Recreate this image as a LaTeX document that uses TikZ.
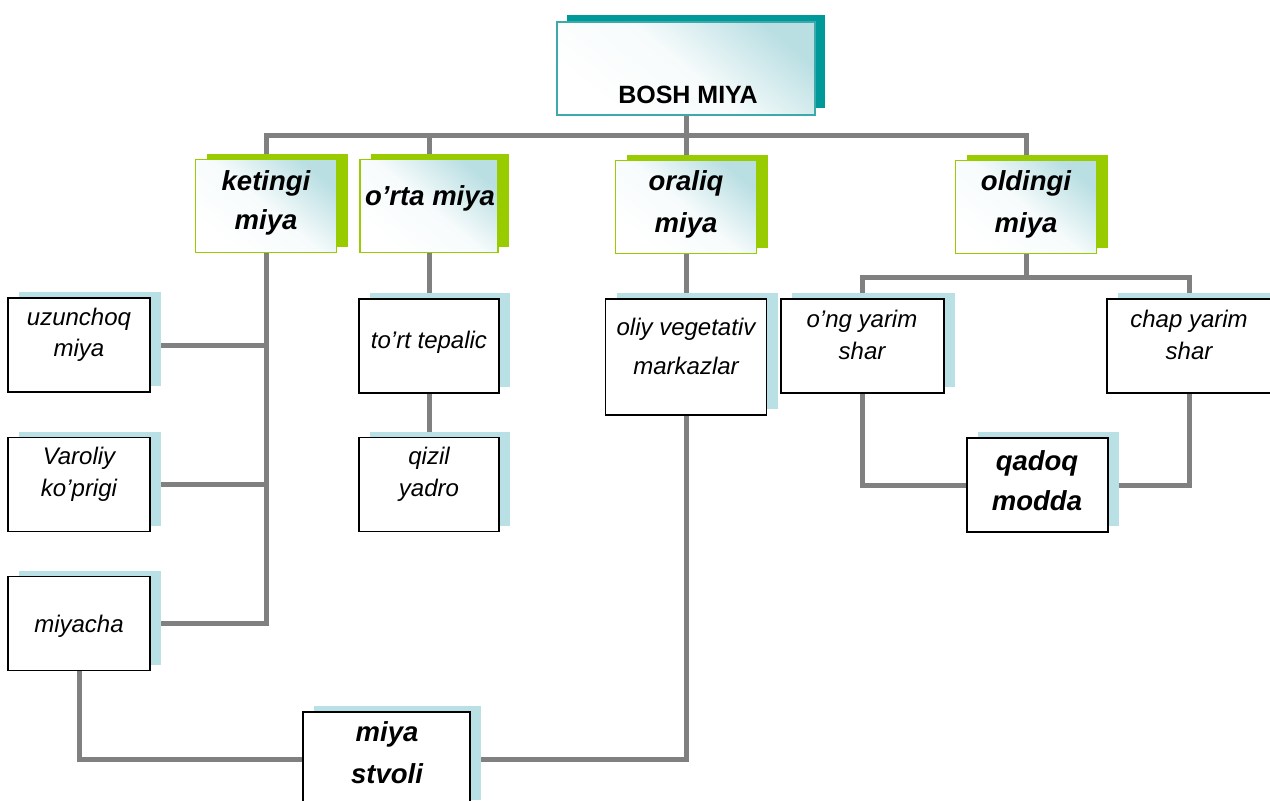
\documentclass[tikz,border=0pt]{standalone}
\usepackage{fontspec}
\setmainfont{Liberation Sans}
\usetikzlibrary{shadows}
\pgfdeclarelayer{bg}
\pgfsetlayers{bg,main}
\definecolor{tealsh}{RGB}{0,153,153}
\definecolor{tealbd}{RGB}{60,170,170}
\definecolor{greensh}{RGB}{153,204,0}
\definecolor{blueshad}{RGB}{185,224,228}
\definecolor{gradc}{RGB}{186,223,227}
\definecolor{connc}{RGB}{128,128,128}
\tikzset{
  x=1pt, y=-1pt,
  connector/.style={draw=connc, line width=5pt},
  softshade/.style={top color=gradc, bottom color=white, middle color=white!88!gradc,
    shading angle=-40},
  topbox/.style={draw=tealbd, line width=1.3pt, softshade,
    general shadow={fill=tealsh, shadow xshift=10pt, shadow yshift=7pt},
    minimum width=258pt, minimum height=93pt, inner sep=0pt},
  greenbox/.style={draw=greensh, line width=1.3pt, softshade,
    general shadow={fill=greensh, shadow xshift=11pt, shadow yshift=6pt},
    minimum width=141pt, minimum height=93pt, inner sep=0pt},
  plainbox/.style={draw=black, line width=1.4pt, fill=white,
    general shadow={fill=blueshad, shadow xshift=11pt, shadow yshift=6pt},
    minimum height=94pt, inner sep=0pt},
  boldbox/.style={plainbox, line width=2.4pt},
  regtext/.style={inner sep=0pt, align=center, font=\itshape\fontsize{24}{28}\selectfont},
  boldtext/.style={inner sep=0pt, align=center, font=\bfseries\itshape\fontsize{27.5}{40}\selectfont},
}
\begin{document}
\begin{tikzpicture}
\useasboundingbox (0,0) rectangle (1270,801);
% boxes
\node[topbox] (top) at (686,68.5) {};
\node[greenbox] (ket) at (266,206) {};
\node[greenbox, minimum width=138pt] (orta) at (429,206) {};
\node[greenbox] (oral) at (686,207) {};
\node[greenbox] (old) at (1026,207) {};
\node[plainbox, minimum width=142pt] (uzun) at (79,345) {};
\node[plainbox, minimum width=142pt] (varo) at (79,484.5) {};
\node[plainbox, minimum width=142pt] (miyacha) at (79,623.5) {};
\node[plainbox, minimum width=140pt] (tort) at (429,346) {};
\node[plainbox, minimum width=140pt] (qizil) at (429,484.5) {};
\node[plainbox, minimum width=161pt, minimum height=116pt] (oliy) at (686,357) {};
\node[plainbox, minimum width=163pt] (ong) at (862.5,346) {};
\node[plainbox, minimum width=165pt] (chap) at (1189.5,346) {};
\node[boldbox, minimum width=141pt] (qadoq) at (1037.5,485) {};
\node[boldbox, minimum width=167pt] (stvoli) at (386.5,759) {};
% texts
\node[inner sep=0pt, font=\bfseries\fontsize{25}{30}\selectfont, anchor=base] (ttop) at (688,103) {BOSH MIYA};
\node[boldtext, font=\bfseries\itshape\fontsize{27.5}{39}\selectfont] (tket) at (266,202.5) {ketingi\\miya};
\node[boldtext] (torta) at (430,198) {o’rta miya};
\node[boldtext, font=\bfseries\itshape\fontsize{27.5}{42}\selectfont] (toral) at (686,204) {oraliq\\miya};
\node[boldtext, font=\bfseries\itshape\fontsize{27.5}{42}\selectfont] (told) at (1026,204) {oldingi\\miya};
\node[regtext, font=\itshape\fontsize{24}{31}\selectfont] (tuzun) at (79,335) {uzunchoq\\miya};
\node[regtext, font=\itshape\fontsize{24}{32}\selectfont] (tvaro) at (79,474) {Varoliy\\ko’prigi};
\node[regtext] (tmiyacha) at (79,626) {miyacha};
\node[regtext] (ttort) at (429,342) {to’rt tepalic};
\node[regtext, font=\itshape\fontsize{24}{32}\selectfont] (tqizil) at (429,474) {qizil\\yadro};
\node[regtext, font=\itshape\fontsize{24}{39}\selectfont] (toliy) at (686,346.5) {oliy vegetativ\\markazlar};
\node[regtext, font=\itshape\fontsize{24}{32}\selectfont] (tong) at (862,334.5) {o’ng yarim\\shar};
\node[regtext, font=\itshape\fontsize{24}{32}\selectfont] (tchap) at (1189,334.5) {chap yarim\\shar};
\node[boldtext, font=\bfseries\itshape\fontsize{27.5}{40}\selectfont] (tqadoq) at (1037,481) {qadoq\\modda};
\node[boldtext, font=\bfseries\itshape\fontsize{27.5}{42}\selectfont] (tstvoli) at (387,752.5) {miya\\stvoli};
% connectors
\coordinate (bus) at (686,135);
\coordinate (rbus) at (1026,277);
\begin{pgfonlayer}{bg}
\draw[connector] (top.south) -- (bus);
\draw[connector] (ket.north) |- (bus) -| (old.north);
\draw[connector] (orta.north) -- (orta.north |- bus);
\draw[connector] (oral.north) -- (bus);
\draw[connector] (ket.south) |- (miyacha.east);
\draw[connector] (uzun.east) -- (uzun.east -| ket.south);
\draw[connector] (varo.east) -- (varo.east -| ket.south);
\draw[connector] (orta.south) -- (tort.north);
\draw[connector] (tort.south) -- (qizil.north);
\draw[connector] (oral.south) -- (oliy.north);
\draw[connector] (oliy.south) |- (stvoli.east);
\draw[connector] (miyacha.south) |- (stvoli.west);
\draw[connector] (old.south) -- (rbus);
\draw[connector] (ong.north) |- (rbus) -| (chap.north);
\draw[connector] (ong.south) |- (qadoq.west);
\draw[connector] (chap.south) |- (qadoq.east);
\end{pgfonlayer}
\end{tikzpicture}
\end{document}
